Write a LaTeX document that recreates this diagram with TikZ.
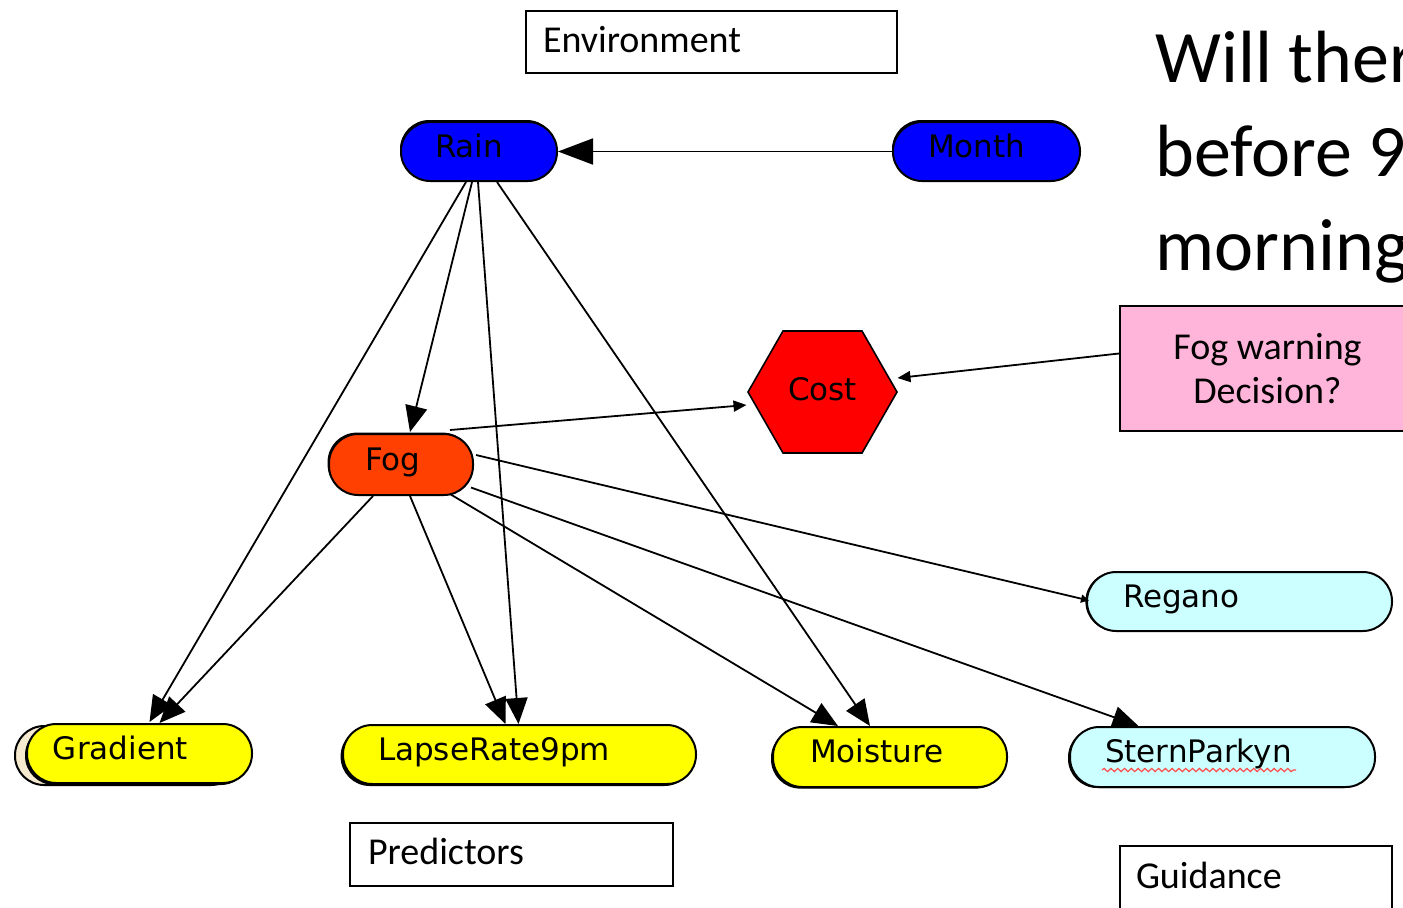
\documentclass[tikz,border=0pt]{standalone}
\usepackage{fontspec}
\setmainfont{Carlito}
\newfontfamily\labelfont{DejaVu Sans}
\usetikzlibrary{calc,arrows.meta,shadows,decorations.pathmorphing}

\definecolor{rainblue}{RGB}{0,0,255}
\definecolor{fogred}{RGB}{255,64,0}
\definecolor{costred}{RGB}{255,0,0}
\definecolor{decpink}{RGB}{255,180,218}
\definecolor{guidecyan}{RGB}{204,255,255}
\definecolor{predyellow}{RGB}{255,255,0}
\definecolor{cream}{RGB}{245,234,208}

\tikzset{
  stadium/.style={rectangle, rounded corners=14.6pt, draw=black, line width=1pt,
    minimum height=29.5pt, inner ysep=0pt, align=left,
    font=\labelfont\fontsize{15.5}{18}\selectfont, text height=11.5pt, text depth=6pt},
  labelbox/.style={rectangle, draw=black, line width=1pt, fill=white, inner ysep=0pt,
    align=left, font=\fontsize{19}{22}\selectfont, text height=12.2pt, text depth=2.2pt},
  link/.style={draw=black, line width=0.9pt},
  bigtip/.style={link, -{Triangle[length=17.5pt,width=13pt]}},
  midtip/.style={link, -{Triangle[length=13pt,width=11pt]}},
  smalltip/.style={link, -{Triangle[length=6.5pt,width=5.5pt]}},
  tinytip/.style={link, -{Triangle[length=4pt,width=4pt]}},
}

\begin{document}
\begin{tikzpicture}[x=0.5pt,y=-0.5pt]
\useasboundingbox (0,0) rectangle (1403,907);
\clip (0,0) rectangle (1403,907);

% question text (base anchor sits on the last line)
\node[anchor=base west, align=left, inner sep=0pt,
      font=\fontsize{37}{47}\selectfont] (Question) at (1155,270)
  {Will there\\before 9\\morning};

% group boxes
\node[labelbox, minimum height=31pt, text width=168.5pt, inner xsep=8.5pt] (Env) at (711.5,42) {Environment};
\node[labelbox, minimum height=31.5pt, text width=143.5pt, inner xsep=9pt] (Pred) at (511.5,854.5) {Predictors};
\node[labelbox, minimum height=32pt, text width=120pt, inner xsep=8pt] (Guide) at (1256,878) {Guidance};

% environment nodes
\node[stadium, fill=rainblue, text width=44pt, inner xsep=17pt,
      general shadow={shadow xshift=-0.5pt, shadow yshift=1pt, fill=black}] (Rain) at (479,151.5) {Rain};
\node[stadium, fill=rainblue, text width=58.5pt, inner xsep=17.5pt,
      general shadow={shadow xshift=-0.5pt, shadow yshift=1pt, fill=black}] (Month) at (986.5,151.5) {Month};

% fog node
\node[stadium, fill=fogred, minimum height=30.5pt, text width=36pt, inner xsep=18pt,
      general shadow={shadow xshift=-0.7pt, shadow yshift=0.7pt, fill=black}] (Fog) at (401,464.5) {Fog};

% cost hexagon
\coordinate (CostC) at (822.5,392);
\draw[fill=costred, line width=0.8pt]
  ($(CostC)+(-74.5,0)$) -- ($(CostC)+(-39.5,-61)$) -- ($(CostC)+(39.5,-61)$) --
  ($(CostC)+(74.5,0)$) -- ($(CostC)+(39.5,61)$) -- ($(CostC)+(-39.5,61)$) -- cycle;
\node[font=\labelfont\fontsize{15.5}{18}\selectfont, text height=11.5pt, text depth=3pt, inner sep=0pt] (Cost) at (CostC) {Cost};

% decision box
\node[rectangle, draw=black, line width=1pt, fill=decpink, minimum width=147.5pt,
      minimum height=62.5pt, align=center, font=\fontsize{19}{22}\selectfont] (Warn) at (1267.5,368.5)
  {Fog warning\\Decision?};

% guidance nodes
\node[stadium, fill=guidecyan, text width=116.5pt, inner xsep=18pt,
      general shadow={shadow xshift=-0.8pt, shadow yshift=0pt, fill=black}] (Regano) at (1239.5,601.5) {Regano};
\node[stadium, fill=guidecyan, minimum height=30pt, text width=117.5pt, inner xsep=17.5pt,
      general shadow={shadow xshift=-1pt, shadow yshift=-0.5pt, fill=black}] (Stern) at (1222.5,757) {SternParkyn};
\draw[red!70, line width=0.6pt, decorate, decoration={snake, amplitude=0.8pt, segment length=3.4pt}]
  ($(Stern.west)+(33,13)$) -- ++(194,0);

% predictor nodes
\node[stadium, fill=predyellow, text width=86.5pt, inner xsep=13pt,
      general shadow={shadow xshift=-6pt, shadow yshift=-1pt, fill=cream, draw=black, line width=1pt},
      general shadow={shadow xshift=-1pt, shadow yshift=-1pt, fill=black}] (Grad) at (139.5,753.5) {Gradient};
\node[stadium, fill=predyellow, text width=141.5pt, inner xsep=17.5pt,
      general shadow={shadow xshift=-1.2pt, shadow yshift=-1pt, fill=black}] (Lapse) at (519.5,754.5) {LapseRate9pm};
\node[stadium, fill=predyellow, minimum height=30pt, text width=80pt, inner xsep=18.5pt,
      general shadow={shadow xshift=-1pt, shadow yshift=-0.8pt, fill=black}] (Moist) at (890,757) {Moisture};

% connectors
\draw[bigtip] (Month.west) -- (Rain.east);
\draw[midtip] ($(Rain.south)+(-7,0)$) -- ($(Fog.north)+(9,-1)$);
\draw[midtip] ($(Rain.south)+(-13,0)$) -- ($(Grad.north)+(10,-1)$);
\draw[midtip] ($(Rain.south)+(-1,0)$) -- ($(Lapse.north)+(-1,0)$);
\draw[midtip] ($(Rain.south)+(18,0)$) -- ($(Moist.north)+(-20,0)$);
\draw[midtip] ($(Fog.south)+(-28,0)$) -- ($(Grad.north)+(20,0)$);
\draw[midtip] ($(Fog.south)+(9,0)$) -- ($(Lapse.north)+(-14,0)$);
\draw[midtip] ($(Fog.south)+(49,-2)$) -- ($(Moist.north)+(-52,0)$);
\draw[midtip] ($(Fog.east)+(-3,23)$) -- ($(Stern.north)+(-84,0)$);
\draw[tinytip] ($(Fog.east)+(2,-9.5)$) -- ($(Regano.west)+(3,-1)$);
\draw[smalltip] ($(Fog.north)+(49,-3)$) -- ($(CostC)+(-76,13)$);
\draw[smalltip] ($(Warn.west)+(0,-15)$) -- ($(CostC)+(75,-14)$);
\end{tikzpicture}
\end{document}
